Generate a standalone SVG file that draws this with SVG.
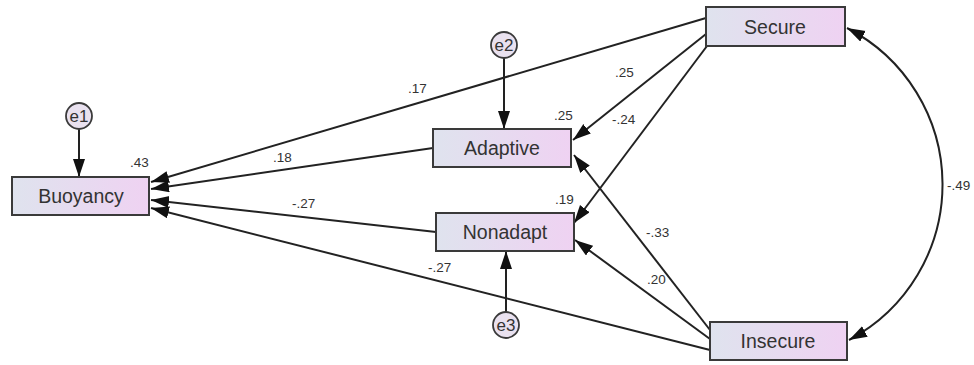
<svg xmlns="http://www.w3.org/2000/svg" width="974" height="365" viewBox="0 0 974 365">
  <style>
    .box { fill: url(#boxfill); stroke: #3a3a3a; stroke-width: 2; }
    .err { fill: #e9e1ef; stroke: #3a3a3a; stroke-width: 1.8; }
    .name { font-family: "Liberation Sans", Arial, sans-serif; font-size: 19.5px; fill: #333; text-anchor: middle; dominant-baseline: central; }
    .ename { font-family: "Liberation Sans", Arial, sans-serif; font-size: 17px; fill: #333; text-anchor: middle; dominant-baseline: central; }
    .coef { font-family: "Liberation Sans", Arial, sans-serif; font-size: 13.5px; fill: #333; }
    .path { stroke: #222; stroke-width: 2; fill: none; marker-end: url(#head); }
  </style>
  <defs>
    <linearGradient id="boxfill" x1="0" y1="0" x2="1" y2="0">
      <stop offset="0" stop-color="#dfe3ee"/>
      <stop offset="1" stop-color="#efd2f2"/>
    </linearGradient>
    <marker id="head" markerUnits="userSpaceOnUse" markerWidth="19" markerHeight="13" refX="18" refY="6" orient="auto-start-reverse">
      <path d="M0,0 L18,6 L0,12 z" fill="#111"/>
    </marker>
  </defs>
  <rect width="974" height="365" fill="#fff"/>

  <!-- regression paths, covariance and error terms -->
  <g id="connectors">
    <line class="path" x1="706" y1="18" x2="151" y2="182"/>
    <line class="path" x1="433" y1="148" x2="151" y2="189"/>
    <line class="path" x1="436" y1="232" x2="151" y2="200"/>
    <line class="path" x1="710" y1="350" x2="151" y2="208"/>
    <line class="path" x1="706" y1="34" x2="573" y2="140"/>
    <line class="path" x1="707" y1="46" x2="574" y2="223"/>
    <line class="path" x1="710" y1="330" x2="574" y2="155"/>
    <line class="path" x1="710" y1="339" x2="575" y2="240"/>
    <line class="path" x1="79" y1="129" x2="79" y2="177"/>
    <line class="path" x1="504" y1="58" x2="504" y2="129"/>
    <line class="path" x1="506" y1="312" x2="506" y2="251"/>
    <path class="path" style="marker-start: url(#head)" d="M847,28 A176,176 0 0 1 849,340"/>
  </g>

  <g id="Buoyancy">
    <rect class="box" x="12" y="177" width="137" height="38"/>
    <text class="name" x="81" y="196">Buoyancy</text>
  </g>
  <g id="Adaptive">
    <rect class="box" x="433" y="129" width="138" height="38"/>
    <text class="name" x="502" y="148">Adaptive</text>
  </g>
  <g id="Nonadapt">
    <rect class="box" x="436" y="213" width="138" height="38"/>
    <text class="name" x="505" y="232">Nonadapt</text>
  </g>
  <g id="Secure">
    <rect class="box" x="706" y="7" width="139" height="39"/>
    <text class="name" x="775" y="27">Secure</text>
  </g>
  <g id="Insecure">
    <rect class="box" x="710" y="322" width="137" height="38"/>
    <text class="name" x="778" y="341">Insecure</text>
  </g>
  <g id="e1">
    <circle class="err" cx="79" cy="116" r="13"/>
    <text class="ename" x="79" y="116">e1</text>
  </g>
  <g id="e2">
    <circle class="err" cx="504" cy="45" r="13"/>
    <text class="ename" x="504" y="45">e2</text>
  </g>
  <g id="e3">
    <circle class="err" cx="506" cy="325" r="13"/>
    <text class="ename" x="506" y="325">e3</text>
  </g>

  <!-- estimates -->
  <g id="estimates">
    <text class="coef" x="130" y="167">.43</text>
    <text class="coef" x="554" y="120">.25</text>
    <text class="coef" x="555" y="204">.19</text>
    <text class="coef" x="408" y="93">.17</text>
    <text class="coef" x="273" y="162">.18</text>
    <text class="coef" x="292" y="208">-.27</text>
    <text class="coef" x="428" y="272">-.27</text>
    <text class="coef" x="615" y="77">.25</text>
    <text class="coef" x="612" y="124">-.24</text>
    <text class="coef" x="646" y="237">-.33</text>
    <text class="coef" x="647" y="284">.20</text>
    <text class="coef" x="947" y="190">-.49</text>
  </g>
</svg>
